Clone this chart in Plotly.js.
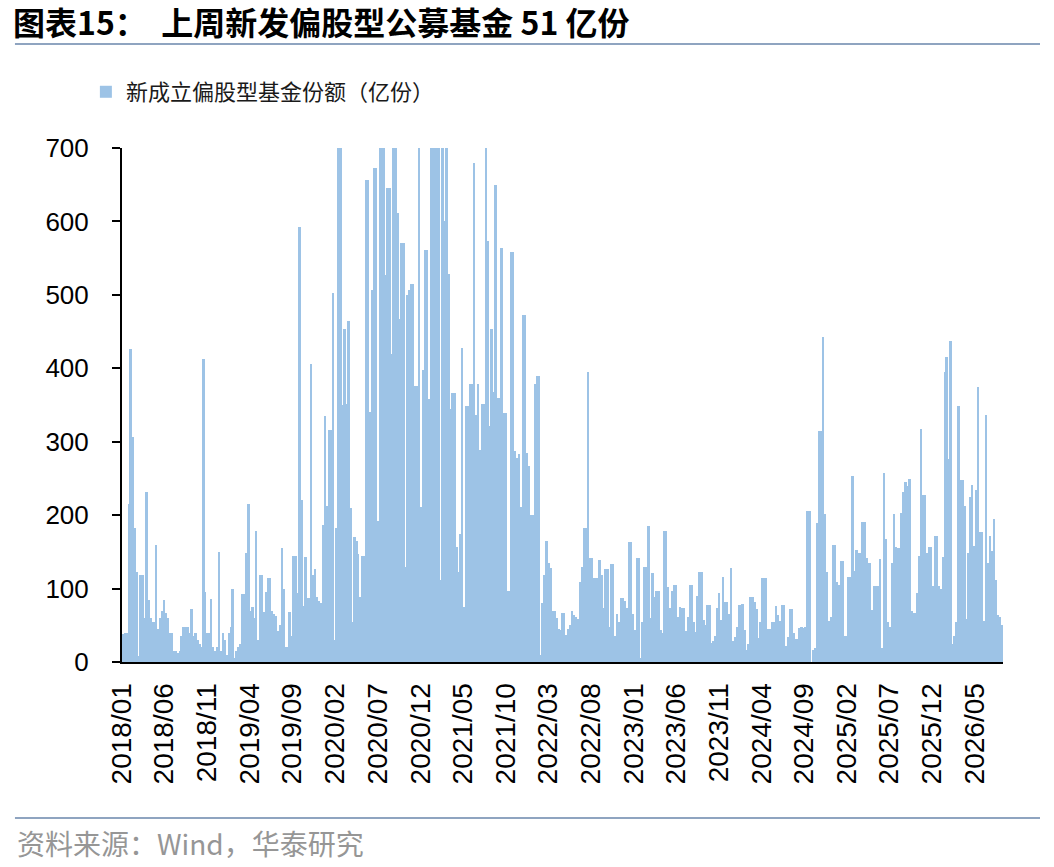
<!DOCTYPE html>
<html>
<head>
<meta charset="utf-8">
<script src="https://cdn.plot.ly/plotly-3.0.1.min.js"></script>
<style>
  html, body { margin: 0; padding: 0; background: #fff; }
  #chart { width: 1054px; height: 867px; }
</style>
</head>
<body>
<div id="chart"></div>
<script>
// weekly new equity-fund shares (亿份), first week 2018-01-05, 52 weeks per block
const shares2018 = [38,40,40,215,426,306,183,122,8,118,118,60,232,85,60,55,55,160,45,60,70,85,67,60,40,40,15,15,12,15,35,47,47,47,40,72,35,40,30,25,20,412,95,40,40,86,20,15,20,150,15,40]
const shares2019 = [30,10,40,48,100,5,15,20,25,92,92,148,215,70,75,60,178,30,118,118,68,95,115,115,70,66,62,42,50,155,100,20,20,68,36,145,145,94,592,220,76,143,87,87,406,118,126,88,83,80,186,335]
const shares2020 = [212,316,316,502,30,182,720,780,350,453,352,465,210,54,170,165,147,89,144,144,656,656,341,507,673,673,192,760,820,740,527,646,646,420,790,720,612,467,571,571,130,500,507,515,515,376,376,760,211,398,561,561]
const shares2021 = [358,800,900,760,850,780,112,750,600,720,528,344,367,367,156,123,175,428,75,349,349,379,379,679,336,379,289,352,352,760,574,321,454,368,649,359,359,564,339,339,97,97,559,559,288,278,283,211,473,473,285,267]
const shares2022 = [200,200,378,389,389,10,80,118,165,135,128,70,70,60,45,44,67,67,37,45,50,70,64,61,58,109,129,182,182,395,141,141,114,114,114,139,118,73,127,127,48,134,134,35,65,54,87,87,83,73,163,163]
const shares2023 = [66,43,142,142,5,55,130,130,185,60,121,88,97,97,44,40,178,178,102,73,97,105,105,61,75,73,73,42,61,105,105,55,41,90,123,123,57,50,77,77,26,28,36,74,94,57,116,82,82,66,128,28]
const shares2024 = [34,47,78,78,79,44,16,25,89,89,82,72,33,54,115,115,115,45,45,54,54,76,64,56,78,78,22,34,72,72,39,32,32,46,47,46,48,205,205,0,17,19,189,315,315,442,202,122,56,61,159,159]
const shares2025 = [109,105,138,138,35,35,116,116,253,124,152,148,148,190,190,141,135,135,71,104,104,103,140,19,258,168,54,47,135,202,156,155,155,203,232,245,240,249,69,67,67,94,144,318,227,228,148,156,156,104,172,172]
const shares2026 = [103,100,143,395,415,277,437,25,36,54,348,248,248,212,59,148,225,241,158,234,374,177,177,56,336,135,172,151,195,112,64,61,51]

const firstWeek = '2018-01-05'
const seriesName = '新成立偏股型基金份额（亿份）'
const titleText = '<b>图表15：  上周新发偏股型公募基金 51 亿份</b>'
const sourceText = '资料来源：Wind，华泰研究'

const values = [].concat(shares2018, shares2019, shares2020, shares2021, shares2022,
  shares2023, shares2024, shares2025, shares2026)

//one friday per value
const dates = values.map((v, i) => {
  let d = new Date(firstWeek + 'T00:00:00Z')
  d.setUTCDate(d.getUTCDate() + 7 * i)
  return d.toISOString().slice(0, 10)
})

const numFont = 'Arial, "Liberation Sans", sans-serif'
const cjkFont = '"Noto Sans CJK SC", "Noto Sans", sans-serif'
const lineColor = 'rgb(143,164,192)'

let trace = {
  type: 'bar',
  x: dates,
  y: values,
  name: seriesName,
  marker: { color: 'rgb(157,195,230)', line: { width: 0 } },
  showlegend: true,
  hoverinfo: 'x+y',
}

let layout = {
  width: 1054,
  height: 867,
  margin: { l: 122, r: 51, t: 148, b: 205 },
  paper_bgcolor: '#fff',
  plot_bgcolor: '#fff',
  bargap: 0,
  showlegend: true,
  title: {
    text: titleText,
    x: 13 / 1054,
    xref: 'container',
    xanchor: 'left',
    y: 1 - 24 / 867,
    yref: 'container',
    yanchor: 'middle',
    font: { family: cjkFont, size: 32, color: '#000' },
  },
  legend: {
    x: -0.041,
    xanchor: 'left',
    y: 1.109,
    yanchor: 'middle',
    orientation: 'h',
    font: { family: cjkFont, size: 22, color: '#1a1a1a' },
    bgcolor: 'rgba(0,0,0,0)',
  },
  xaxis: {
    type: 'date',
    range: ['2018-01-01', '2026-08-11'],
    tick0: '2018-01-01',
    dtick: 'M5',
    tickformat: '%Y/%m',
    tickangle: -90,
    ticks: '',
    ticklabelstandoff: 8,
    showgrid: false,
    zeroline: false,
    showline: true,
    linecolor: '#000',
    linewidth: 2,
    tickfont: { family: numFont, size: 28, color: '#000' },
  },
  yaxis: {
    range: [0, 700],
    dtick: 100,
    ticks: 'outside',
    ticklen: 8,
    tickwidth: 1.5,
    tickcolor: '#000',
    ticklabelstandoff: 18,
    showgrid: false,
    zeroline: false,
    showline: true,
    linecolor: '#000',
    linewidth: 2,
    tickfont: { family: numFont, size: 26, color: '#000' },
  },
  shapes: [
    //line under the title
    {
      type: 'line', xref: 'paper', yref: 'paper',
      x0: -0.1215, x1: 1.042, y0: 1.2023, y1: 1.2023,
      line: { color: lineColor, width: 2 },
    },
    //line above the source
    {
      type: 'line', xref: 'paper', yref: 'paper',
      x0: -0.1215, x1: 1.042, y0: -0.3035, y1: -0.3035,
      line: { color: lineColor, width: 2 },
    },
  ],
  annotations: [
    {
      xref: 'paper', yref: 'paper',
      x: -0.1215, y: -0.352,
      xanchor: 'left', yanchor: 'middle',
      text: sourceText,
      showarrow: false,
      font: { family: cjkFont, size: 28, color: 'rgb(150,150,150)' },
    },
  ],
}

Plotly.newPlot('chart', [trace], layout, { displaylogo: false, displayModeBar: false })
</script>
</body>
</html>
